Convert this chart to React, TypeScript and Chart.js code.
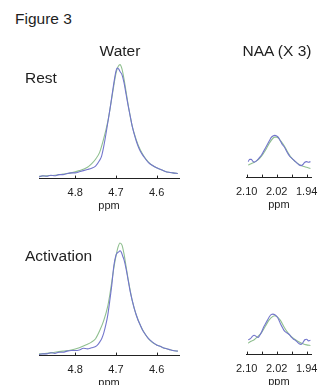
import React, { useEffect, useRef } from "react";
import { Chart, registerables } from "chart.js";

Chart.register(...registerables);

const FONT = "'Liberation Sans', Arial, sans-serif";
const BLUE = "#7376cc";
const GREEN = "#8fbf8f";
const TEXT = "#1e1e1e";

const WATER_TICKS = [4.8, 4.7, 4.6];
const WATER_LABELED = [4.8, 4.7, 4.6];
const NAA_TICKS = [2.1, 2.06, 2.02, 1.98, 1.94];
const NAA_LABELED = [2.1, 2.02, 1.94];

// Water, rest [ppm, intensity]
const WATER_REST_GREEN: [number, number][] = [
  [4.889, 2], [4.87, 2.5], [4.85, 3], [4.83, 4], [4.81, 5], [4.79, 7], [4.77, 10],
  [4.76, 13], [4.75, 17], [4.74, 23], [4.73, 35], [4.72, 50], [4.715, 60], [4.71, 71],
  [4.705, 82], [4.7, 92], [4.695, 98], [4.69, 100], [4.685, 96], [4.68, 87], [4.675, 76],
  [4.67, 65], [4.665, 55], [4.66, 46], [4.65, 34], [4.64, 25], [4.63, 19], [4.62, 14.5],
  [4.61, 11.5], [4.6, 9.5], [4.59, 8], [4.58, 6.5], [4.57, 5.5], [4.56, 5], [4.548, 4.5],
];
const WATER_REST_BLUE: [number, number][] = [
  [4.889, 1.5], [4.88, 2.5], [4.87, 2], [4.86, 3], [4.85, 2.5], [4.84, 3.5], [4.83, 3.5],
  [4.82, 4.5], [4.81, 5], [4.8, 5], [4.79, 6], [4.78, 7], [4.77, 8], [4.76, 9], [4.75, 11],
  [4.74, 16], [4.735, 20], [4.73, 28], [4.725, 38], [4.72, 49], [4.715, 60], [4.71, 72],
  [4.705, 84], [4.7, 94], [4.697, 97], [4.693, 96], [4.69, 94], [4.685, 91], [4.68, 84],
  [4.675, 74], [4.67, 64], [4.665, 55], [4.66, 46], [4.655, 39], [4.65, 33], [4.645, 28],
  [4.64, 24], [4.635, 21], [4.63, 18.5], [4.62, 14], [4.61, 11.5], [4.6, 9.5], [4.59, 8],
  [4.58, 6.5], [4.57, 5.5], [4.56, 5], [4.548, 4.5],
];

// Water, activation
const WATER_ACT_GREEN: [number, number][] = [
  [4.889, 1.5], [4.87, 2], [4.85, 3], [4.83, 4], [4.81, 5], [4.79, 7], [4.77, 10],
  [4.76, 12], [4.75, 15], [4.74, 22], [4.73, 31], [4.72, 44], [4.715, 54], [4.71, 66],
  [4.705, 78], [4.7, 88], [4.695, 96], [4.69, 100], [4.685, 98], [4.68, 90], [4.675, 79],
  [4.67, 68], [4.665, 58], [4.66, 49], [4.65, 36], [4.64, 27], [4.63, 20], [4.62, 15],
  [4.61, 11.5], [4.6, 9.5], [4.59, 8], [4.58, 6.5], [4.57, 5.5], [4.56, 4.5], [4.548, 4],
];
const WATER_ACT_BLUE: [number, number][] = [
  [4.889, 1], [4.88, 1.5], [4.87, 1.5], [4.86, 2.5], [4.85, 2], [4.84, 3], [4.83, 3],
  [4.82, 4], [4.81, 4.5], [4.8, 4.5], [4.79, 5], [4.78, 6.5], [4.77, 6], [4.76, 7],
  [4.75, 8], [4.745, 9.5], [4.74, 12], [4.735, 15], [4.73, 20], [4.725, 27], [4.72, 36],
  [4.715, 49], [4.71, 63], [4.705, 80], [4.7, 89], [4.697, 91], [4.693, 92], [4.69, 93],
  [4.687, 92], [4.683, 88], [4.68, 85], [4.675, 77], [4.67, 67], [4.665, 57], [4.66, 49],
  [4.655, 42], [4.65, 36], [4.645, 31], [4.64, 27], [4.635, 23], [4.63, 20], [4.62, 15],
  [4.61, 12], [4.6, 9.5], [4.59, 8], [4.58, 6.5], [4.57, 5.5], [4.56, 4.5], [4.548, 4],
];

// NAA (x3), rest
const NAA_REST_GREEN: [number, number][] = [
  [2.096, 11], [2.09, 12], [2.08, 13.5], [2.07, 15.5], [2.06, 19], [2.05, 24], [2.04, 30],
  [2.03, 34.5], [2.025, 35.5], [2.02, 35.5], [2.015, 34.5], [2.01, 32.5], [2.0, 28],
  [1.99, 22], [1.98, 17], [1.97, 14], [1.96, 11.5], [1.95, 10], [1.94, 9], [1.93, 8],
];
const NAA_REST_BLUE: [number, number][] = [
  [2.096, 14], [2.092, 16], [2.088, 16], [2.084, 14.5], [2.08, 13.5], [2.075, 14.5],
  [2.07, 16], [2.065, 18], [2.06, 20], [2.055, 23], [2.05, 26], [2.045, 29], [2.04, 32],
  [2.035, 35], [2.03, 36.5], [2.025, 37], [2.02, 36.5], [2.015, 35], [2.01, 32],
  [2.005, 29], [2.0, 27], [1.995, 24], [1.99, 21], [1.985, 18.5], [1.98, 17], [1.975, 15.5],
  [1.97, 14], [1.965, 12.5], [1.96, 11], [1.955, 10.5], [1.95, 11.5], [1.945, 13.5],
  [1.94, 14], [1.935, 13.5], [1.93, 14],
];

// NAA (x3), activation
const NAA_ACT_GREEN: [number, number][] = [
  [2.096, 10], [2.09, 11.5], [2.08, 13], [2.07, 16], [2.06, 19.5], [2.05, 25], [2.04, 30.5],
  [2.03, 33.5], [2.025, 34], [2.02, 33.5], [2.01, 30], [2.0, 24], [1.99, 19], [1.98, 15.5],
  [1.97, 13], [1.96, 11], [1.95, 9.5], [1.94, 8.5], [1.93, 8],
];
const NAA_ACT_BLUE: [number, number][] = [
  [2.096, 13], [2.09, 14], [2.085, 16], [2.08, 17], [2.075, 16], [2.07, 15], [2.065, 17],
  [2.06, 20], [2.055, 24], [2.05, 27], [2.045, 30], [2.04, 33], [2.035, 35], [2.03, 35.5],
  [2.025, 35], [2.02, 33.5], [2.015, 31], [2.01, 27], [2.005, 24], [2.0, 21], [1.995, 19.5],
  [1.99, 18.5], [1.985, 17], [1.98, 15], [1.975, 13.5], [1.97, 12.5], [1.965, 11],
  [1.96, 9.5], [1.955, 9], [1.95, 10.5], [1.945, 13], [1.94, 13.5], [1.935, 12], [1.93, 12.5],
];

const innerTicks = {
  id: "innerTicks",
  afterDraw(chart: any) {
    const s = chart.scales.x;
    const ctx = chart.ctx;
    ctx.save();
    ctx.strokeStyle = "#222";
    ctx.lineWidth = 1;
    s.ticks.forEach((t: any) => {
      const x = Math.round(s.getPixelForValue(t.value)) + 0.5;
      ctx.beginPath();
      ctx.moveTo(x, s.top);
      ctx.lineTo(x, s.top - 3);
      ctx.stroke();
    });
    ctx.restore();
  },
};

type PanelProps = {
  left: number;
  top: number;
  width: number;
  height: number;
  padLeft: number;
  padRight: number;
  xMin: number;
  xMax: number;
  yMax: number;
  ticks: number[];
  labeled: number[];
  digits: number;
  green: [number, number][];
  blue: [number, number][];
};

function Panel(p: PanelProps) {
  const ref = useRef<HTMLCanvasElement>(null);
  useEffect(() => {
    const chart = new Chart(ref.current as HTMLCanvasElement, {
      type: "line",
      data: {
        datasets: [
          {
            data: p.blue.map(([x, y]) => ({ x, y })),
            borderColor: BLUE,
            borderWidth: 1.1,
            pointRadius: 0,
            cubicInterpolationMode: "monotone",
            fill: false,
          },
          {
            data: p.green.map(([x, y]) => ({ x, y })),
            borderColor: GREEN,
            borderWidth: 1.1,
            pointRadius: 0,
            cubicInterpolationMode: "monotone",
            fill: false,
          },
        ],
      },
      options: {
        animation: false,
        responsive: false,
        maintainAspectRatio: false,
        layout: { padding: { left: p.padLeft, right: p.padRight, top: 0, bottom: 0 } },
        plugins: { legend: { display: false }, tooltip: { enabled: false } },
        scales: {
          x: {
            type: "linear",
            reverse: true,
            min: p.xMin,
            max: p.xMax,
            afterBuildTicks: (s: any) => {
              s.ticks = p.ticks.map((v) => ({ value: v }));
            },
            grid: { display: false, drawTicks: false },
            border: { display: true, color: "#222", width: 1 },
            ticks: {
              padding: 8,
              autoSkip: false,
              maxRotation: 0,
              color: TEXT,
              font: { family: FONT, size: 11 },
              callback: (v: any) =>
                p.labeled.some((l) => Math.abs(l - Number(v)) < 1e-6)
                  ? Number(v).toFixed(p.digits)
                  : "",
            },
            title: {
              display: true,
              text: "ppm",
              color: TEXT,
              font: { family: FONT, size: 11 },
              padding: { top: -8, bottom: 0 },
            },
          },
          y: { display: false, min: 0, max: p.yMax },
        },
      },
      plugins: [innerTicks],
    } as any);
    return () => chart.destroy();
  }, []);
  return (
    <canvas
      ref={ref}
      width={p.width}
      height={p.height}
      style={{ position: "absolute", left: p.left, top: p.top, width: p.width, height: p.height }}
    />
  );
}

const label = (text: string, style: React.CSSProperties) => (
  <div
    style={{
      position: "absolute",
      fontFamily: FONT,
      fontSize: 15.5,
      lineHeight: 1,
      color: TEXT,
      whiteSpace: "nowrap",
      ...style,
    }}
  >
    {text}
  </div>
);

export default function App() {
  return (
    <div
      style={{
        position: "absolute",
        left: 0,
        top: 0,
        width: 326,
        height: 385,
        overflow: "hidden",
        background: "#fff",
      }}
    >
      <Panel
        left={20} top={55} width={180} height={158} padLeft={19} padRight={21}
        xMin={4.545} xMax={4.889} yMax={108.4}
        ticks={WATER_TICKS} labeled={WATER_LABELED} digits={1}
        green={WATER_REST_GREEN} blue={WATER_REST_BLUE}
      />
      <Panel
        left={220} top={55} width={106} height={157} padLeft={26.7} padRight={8.8}
        xMin={1.928} xMax={2.1} yMax={107.5}
        ticks={NAA_TICKS} labeled={NAA_LABELED} digits={2}
        green={NAA_REST_GREEN} blue={NAA_REST_BLUE}
      />
      <Panel
        left={20} top={232} width={180} height={158} padLeft={19} padRight={21}
        xMin={4.545} xMax={4.889} yMax={109.7}
        ticks={WATER_TICKS} labeled={WATER_LABELED} digits={1}
        green={WATER_ACT_GREEN} blue={WATER_ACT_BLUE}
      />
      <Panel
        left={220} top={232} width={106} height={157} padLeft={26.7} padRight={8.8}
        xMin={1.928} xMax={2.1} yMax={107.5}
        ticks={NAA_TICKS} labeled={NAA_LABELED} digits={2}
        green={NAA_ACT_GREEN} blue={NAA_ACT_BLUE}
      />
      {label("Figure 3", { left: 15, top: 10.5 })}
      {label("Water", { left: 70, top: 43, width: 100, textAlign: "center" })}
      {label("NAA (X 3)", { left: 227, top: 43, width: 100, textAlign: "center" })}
      {label("Rest", { left: 25, top: 69.5 })}
      {label("Activation", { left: 25, top: 247.5 })}
    </div>
  );
}
